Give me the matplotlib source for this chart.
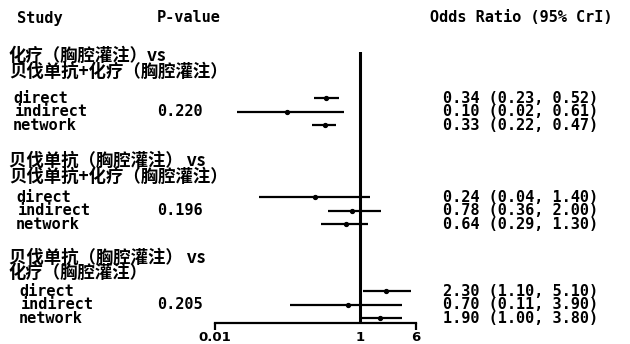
import matplotlib
matplotlib.use("Agg")
import matplotlib.pyplot as plt

# data
comparisons = [
    ("化疗（胸腔灌注）vs", "贝伐单抗+化疗（胸腔灌注）"),
    ("贝伐单抗（胸腔灌注） vs", "贝伐单抗+化疗（胸腔灌注）"),
    ("贝伐单抗（胸腔灌注） vs", "化疗（胸腔灌注）"),
]
methods = ["direct", "indirect", "network"]
p_values = ["0.220", "0.196", "0.205"]
or_est = [[0.34, 0.10, 0.33], [0.24, 0.78, 0.64], [2.30, 0.70, 1.90]]
or_lo = [[0.23, 0.02, 0.22], [0.04, 0.36, 0.29], [1.10, 0.11, 1.00]]
or_hi = [[0.52, 0.61, 0.47], [1.40, 2.00, 1.30], [5.10, 3.90, 3.80]]
x_ticks = [0.01, 1, 6]
x_tick_labels = ["0.01", "1", "6"]

W, H = 630, 344
FAM = ["DejaVu Sans Mono", "Noto Sans CJK SC"]
FAM_CJK = ["Noto Sans CJK SC", "DejaVu Sans Mono"]

# layout (pixel rows of the figure)
header_y = 18
group_head_y = [63.5, 168.5, 265]
group_row_y = [98, 197, 291]
row_step = 13.7
label_x = [13, 16, 19]


def fx(x):
    return x / W


def fy(y):
    return 1 - y / H


fig = plt.figure(figsize=(W / 100, H / 100), dpi=100)
ax = fig.add_axes([fx(215), fy(323), fx(416) - fx(215), (323 - 52) / H])
ax.set_xscale("log")
ax.set_xlim(0.01, 6)
ax.set_ylim(323, 52)

ax.axvline(1, color="black", linewidth=2.2)

for g in range(len(comparisons)):
    for i, m in enumerate(methods):
        y = group_row_y[g] + i * row_step
        ax.plot([or_lo[g][i], or_hi[g][i]], [y, y], color="black",
                linewidth=1.6, solid_capstyle="butt")
        ax.plot(or_est[g][i], y, "o", color="black", markersize=2.8)

        fig.text(fx(label_x[g] + (2 if i == 1 else 0)), fy(y), m,
                 family=FAM, weight="bold", fontsize=11, va="center")
        txt = f"{or_est[g][i]:.2f} ({or_lo[g][i]:.2f}, {or_hi[g][i]:.2f})"
        fig.text(fx(443), fy(y), txt, family=FAM, weight="bold",
                 fontsize=11, va="center")
    fig.text(fx(157), fy(group_row_y[g] + row_step), p_values[g],
             family=FAM, weight="bold", fontsize=11, va="center")
    fig.text(fx(9), fy(group_head_y[g]), "\n".join(comparisons[g]),
             family=FAM_CJK, weight="bold", fontsize=12.5, va="center",
             linespacing=0.82)

fig.text(fx(17), fy(header_y), "Study", family=FAM, weight="bold",
         fontsize=11, va="center")
fig.text(fx(157), fy(header_y), "P-value", family=FAM, weight="bold",
         fontsize=11, va="center")
fig.text(fx(430), fy(header_y), "Odds Ratio (95% CrI)", family=FAM,
         weight="bold", fontsize=11, va="center")

for side in ["top", "right", "left"]:
    ax.spines[side].set_visible(False)
ax.spines["bottom"].set_linewidth(1.6)
ax.set_yticks([])
ax.set_xticks(x_ticks)
ax.set_xticklabels(x_tick_labels, fontsize=9.5, fontweight="bold")
ax.xaxis.set_minor_locator(matplotlib.ticker.NullLocator())
ax.tick_params(axis="x", length=5, width=1.6, pad=1)
ax.xaxis.get_major_ticks()[1].tick1line.set_visible(False)

fig.savefig("out.png", dpi=100)
